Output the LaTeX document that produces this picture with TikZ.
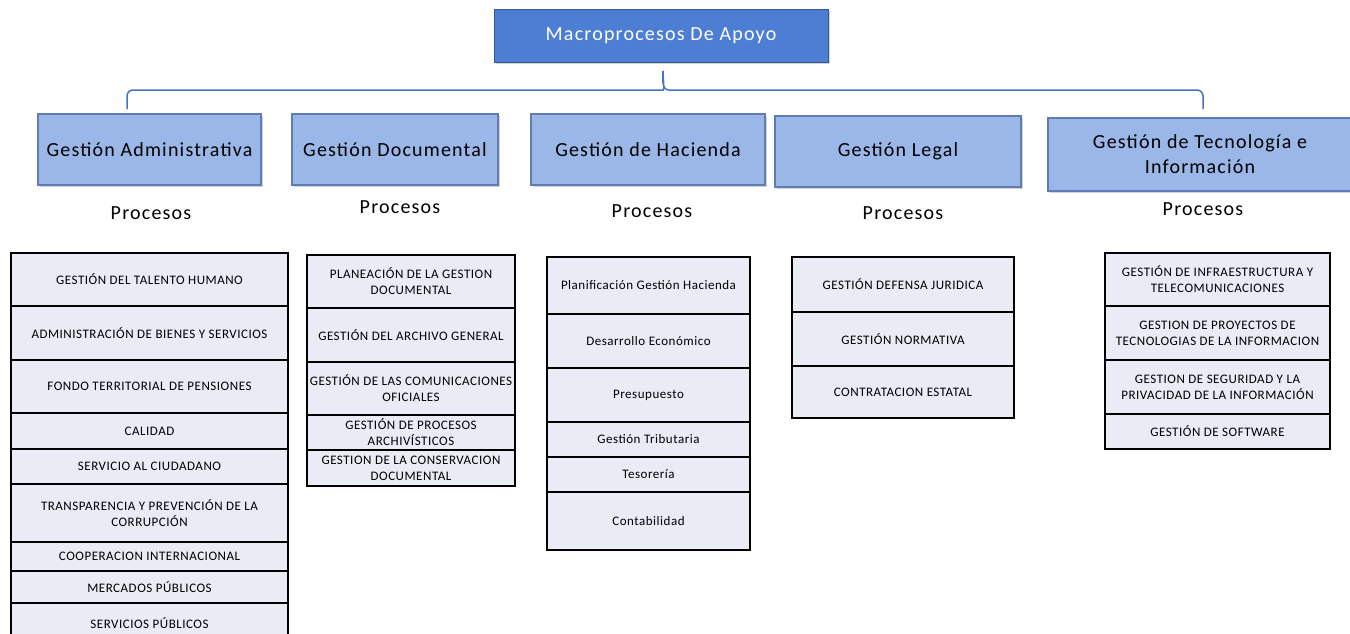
\documentclass[tikz,border=0pt]{standalone}
\usepackage{fontspec}
\setmainfont{Carlito}
\newfontfamily\hdrfont[LetterSpace=6]{Carlito}
\newfontfamily\cellfont[LetterSpace=4]{Carlito}
\usepackage{tikz}
\usetikzlibrary{calc,shadows}
\definecolor{topblue}{RGB}{76,126,211}
\definecolor{hdrblue}{RGB}{155,183,232}
\definecolor{hdredge}{RGB}{96,124,182}
\definecolor{cellfill}{RGB}{233,235,245}
\definecolor{bracketblue}{RGB}{68,114,196}

\begin{document}
\begin{tikzpicture}[x=1pt,y=-1pt,
  topbox/.style={rectangle,fill=topblue,draw=topblue!70!black,line width=1pt,text=white,font=\hdrfont\fontsize{20}{24}\selectfont,drop shadow={shadow xshift=1.5pt,shadow yshift=-1.5pt,opacity=.35}},
  hdr/.style={rectangle,fill=hdrblue,draw=hdredge,line width=1.2pt,font=\hdrfont\fontsize{20}{25}\selectfont,align=center,inner sep=2pt,drop shadow={shadow xshift=1.5pt,shadow yshift=-1.5pt,opacity=.35}},
  proc/.style={font=\hdrfont\fontsize{20}{24}\selectfont},
  cell/.style={rectangle,draw=black,line width=1.2pt,fill=cellfill,font=\cellfont\fontsize{13}{16}\selectfont,align=center,inner sep=0pt},
  bracket/.style={draw=bracketblue,line width=1.5pt}]
  \useasboundingbox (0,0) rectangle (1350,633);
  % cabecera
  \node[topbox,minimum width=334,minimum height=53] (m0) at (661,35.5) {Macroprocesos De Apoyo};
  \coordinate (bl) at (127,109);
  \coordinate (br) at (1203,109);
  \coordinate (tip) at (663,71);
  \draw[bracket] (bl) [rounded corners=6] |- ($(tip)+(-6,19)$) [sharp corners] to[out=0,in=-90] (tip) to[out=-90,in=180] ($(tip)+(6,19)$) [rounded corners=6] -| (br);
  % macroprocesos
  \node[hdr,minimum width=223,minimum height=71] (h1) at (149.5,149.5) {Gestión Administrativa};
  \node[hdr,minimum width=206,minimum height=71] (h2) at (395,149.5) {Gestión Documental};
  \node[hdr,minimum width=234,minimum height=71] (h3) at (648,149.5) {Gestión de Hacienda};
  \node[hdr,minimum width=246,minimum height=71] (h4) at (898,151.5) {Gestión Legal};
  \node[hdr,minimum width=304,minimum height=73] (h5) at (1200,154.5) {Gestión de Tecnología e\\Información};
  \node[proc] (p1) at (151,213) {Procesos};
  \node[proc] (p2) at (400,207) {Procesos};
  \node[proc] (p3) at (652,211) {Procesos};
  \node[proc] (p4) at (903,213) {Procesos};
  \node[proc] (p5) at (1203,209) {Procesos};
  % administrativa
  \node[cell,minimum width=277,minimum height=53] (a1) at (149.5,279.5) {GESTIÓN DEL TALENTO HUMANO};
  \node[cell,minimum width=277,minimum height=54] (a2) at (149.5,333) {ADMINISTRACIÓN DE BIENES Y SERVICIOS};
  \node[cell,minimum width=277,minimum height=53] (a3) at (149.5,386.5) {FONDO TERRITORIAL DE PENSIONES};
  \node[cell,minimum width=277,minimum height=36] (a4) at (149.5,431) {CALIDAD};
  \node[cell,minimum width=277,minimum height=35] (a5) at (149.5,466.5) {SERVICIO AL CIUDADANO};
  \node[cell,minimum width=277,minimum height=58] (a6) at (149.5,513) {TRANSPARENCIA Y PREVENCIÓN DE LA\\CORRUPCIÓN};
  \node[cell,minimum width=277,minimum height=29] (a7) at (149.5,556.5) {COOPERACION INTERNACIONAL};
  \node[cell,minimum width=277,minimum height=32] (a8) at (149.5,587) {MERCADOS PÚBLICOS};
  \node[cell,minimum width=277,minimum height=40] (a9) at (149.5,623) {SERVICIOS PÚBLICOS};
  % documental
  \node[cell,minimum width=208,minimum height=53] (d1) at (411,281.5) {PLANEACIÓN DE LA GESTION\\DOCUMENTAL};
  \node[cell,minimum width=208,minimum height=54] (d2) at (411,335) {GESTIÓN DEL ARCHIVO GENERAL};
  \node[cell,minimum width=208,minimum height=53] (d3) at (411,388.5) {GESTIÓN DE LAS COMUNICACIONES\\OFICIALES};
  \node[cell,minimum width=208,minimum height=35] (d4) at (411,432.5) {GESTIÓN DE PROCESOS\\ARCHIVÍSTICOS};
  \node[cell,minimum width=208,minimum height=36] (d5) at (411,468) {GESTION DE LA CONSERVACION\\DOCUMENTAL};
  % hacienda
  \node[cell,minimum width=203,minimum height=57] (k1) at (648.5,285.5) {Planificación Gestión Hacienda};
  \node[cell,minimum width=203,minimum height=54] (k2) at (648.5,341) {Desarrollo Económico};
  \node[cell,minimum width=203,minimum height=54] (k3) at (648.5,395) {Presupuesto};
  \node[cell,minimum width=203,minimum height=35] (k4) at (648.5,439.5) {Gestión Tributaria};
  \node[cell,minimum width=203,minimum height=35] (k5) at (648.5,474.5) {Tesorería};
  \node[cell,minimum width=203,minimum height=58] (k6) at (648.5,521) {Contabilidad};
  % legal
  \node[cell,minimum width=222,minimum height=55] (l1) at (903,284.5) {GESTIÓN DEFENSA JURIDICA};
  \node[cell,minimum width=222,minimum height=54] (l2) at (903,339) {GESTIÓN NORMATIVA};
  \node[cell,minimum width=222,minimum height=52] (l3) at (903,392) {CONTRATACION ESTATAL};
  % tecnologia
  \node[cell,minimum width=225,minimum height=53] (t1) at (1217.5,279.5) {GESTIÓN DE INFRAESTRUCTURA Y\\TELECOMUNICACIONES};
  \node[cell,minimum width=225,minimum height=54] (t2) at (1217.5,333) {GESTION DE PROYECTOS DE\\TECNOLOGIAS DE LA INFORMACION};
  \node[cell,minimum width=225,minimum height=54] (t3) at (1217.5,387) {GESTION DE SEGURIDAD Y LA\\PRIVACIDAD DE LA INFORMACIÓN};
  \node[cell,minimum width=225,minimum height=35] (t4) at (1217.5,431.5) {GESTIÓN DE SOFTWARE};
\end{tikzpicture}
\end{document}
